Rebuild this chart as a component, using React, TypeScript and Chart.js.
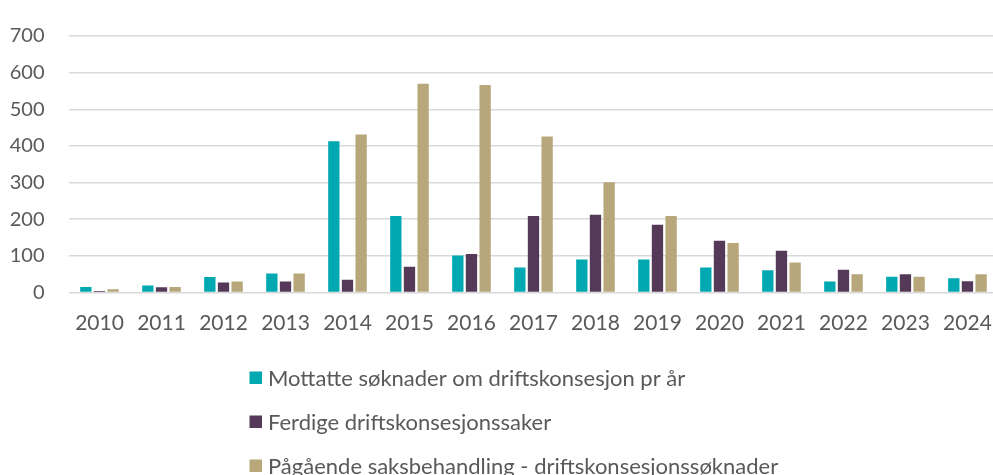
import React, { useEffect, useRef } from "react";
import { Chart, registerables } from "chart.js";

Chart.register(...registerables);

const years = ["2010","2011","2012","2013","2014","2015","2016","2017","2018","2019","2020","2021","2022","2023","2024"];
const mottatte = [15, 19, 42, 52, 413, 209, 101, 68, 90, 90, 68, 61, 30, 43, 39];
const ferdige = [4, 14, 27, 30, 35, 70, 105, 209, 212, 185, 141, 114, 62, 50, 31];
const pagaende = [9, 15, 30, 52, 431, 570, 566, 426, 301, 209, 135, 82, 50, 43, 50];
const seriesLabels = [
  "Mottatte søknader om driftskonsesjon pr år",
  "Ferdige driftskonsesjonssaker",
  "Pågående saksbehandling - driftskonsesjonssøknader",
];
const seriesColors = ["#00A9B1", "#553959", "#B8A77B"];
const yTicks = [0, 100, 200, 300, 400, 500, 600, 700];

const TEXT = "#595959";
const FONT = "Lato";

const legendPlugin = {
  id: "verticalLegend",
  afterDraw(chart: any) {
    const ctx = chart.ctx;
    const x0 = 249.5;
    const yStart = chart.chartArea.bottom + 85.5;
    const step = 44;
    ctx.save();
    ctx.font = `22px ${FONT}`;
    ctx.textBaseline = "middle";
    ctx.textAlign = "left";
    chart.data.datasets.forEach((ds: any, i: number) => {
      const y = yStart + i * step;
      ctx.fillStyle = ds.backgroundColor;
      ctx.fillRect(x0, y - 6.5, 12.5, 12.5);
      ctx.fillStyle = TEXT;
      ctx.fillText(ds.label, x0 + 18.5, y + 1);
    });
    ctx.restore();
  },
};

export default function App() {
  const ref = useRef<HTMLCanvasElement | null>(null);
  useEffect(() => {
    if (!ref.current) return;
    const datasets = [mottatte, ferdige, pagaende].map((d, i) => ({
      label: seriesLabels[i],
      data: d,
      backgroundColor: seriesColors[i],
      borderWidth: 0,
      categoryPercentage: 0.66,
      barPercentage: 0.83,
    }));
    const chart = new Chart(ref.current, {
      type: "bar",
      data: { labels: years, datasets },
      plugins: [legendPlugin],
      options: {
        animation: false,
        responsive: false,
        maintainAspectRatio: false,
        layout: { padding: { top: 24.5, right: 5.5, bottom: 122.5, left: 0 } },
        plugins: { legend: { display: false }, tooltip: { enabled: false } },
        scales: {
          x: {
            grid: { display: false, drawTicks: false },
            border: { display: false },
            ticks: { color: TEXT, font: { family: FONT, size: 21 }, padding: 18, maxRotation: 0, autoSkip: false },
            afterFit: (axis: any) => { axis.height = 60; },
          },
          y: {
            min: 0,
            max: 700,
            afterBuildTicks: (axis: any) => { axis.ticks = yTicks.map((v) => ({ value: v })); },
            grid: { color: "#D9D9D9", lineWidth: 1.5, drawTicks: false },
            border: { display: false },
            ticks: { color: TEXT, font: { family: FONT, size: 20 }, padding: 24 },
            afterFit: (axis: any) => { axis.width = 68.5; },
          },
        },
      },
    });
    return () => chart.destroy();
  }, []);
  return (
    <div style={{ position: "absolute", left: 0, top: 0, width: 993, height: 475, overflow: "hidden", background: "#fff" }}>
      <canvas ref={ref} width={1010} height={475} style={{ display: "block" }} />
    </div>
  );
}
